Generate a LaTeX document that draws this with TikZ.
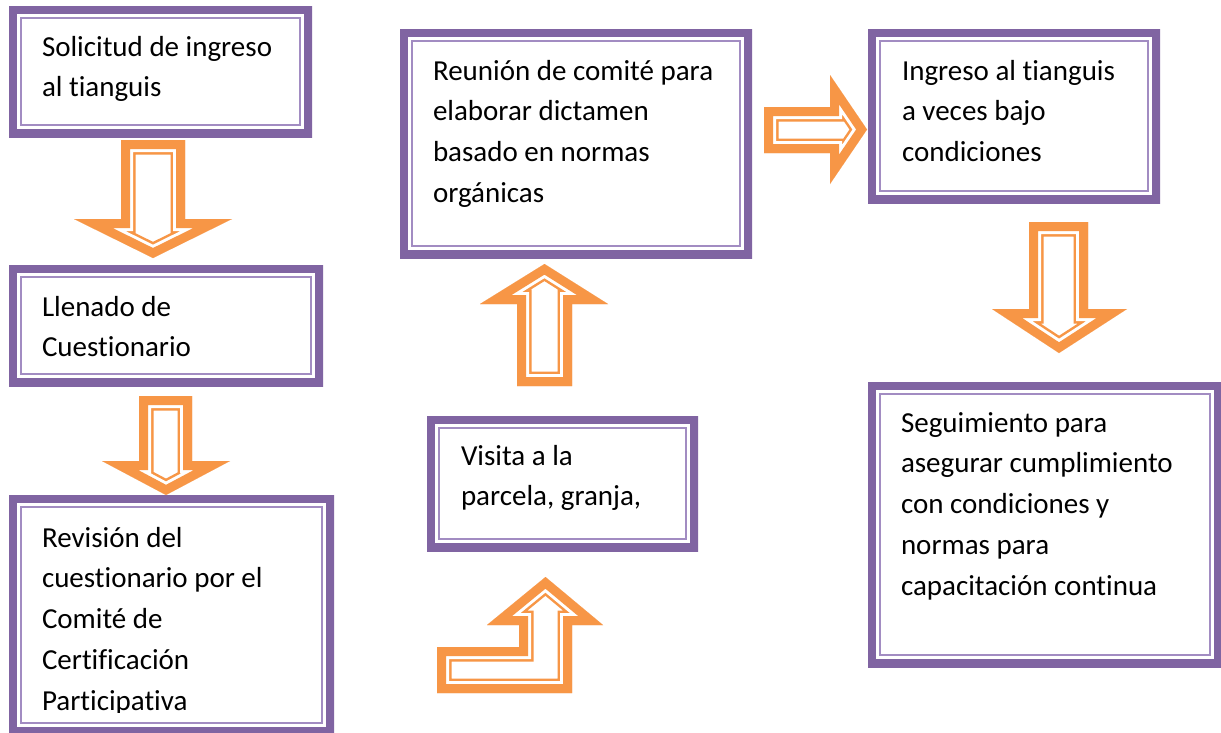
\documentclass[tikz,border=0pt]{standalone}
\usepackage{fontspec}
\setmainfont{Carlito}[Ligatures=NoCommon]
\definecolor{purp}{HTML}{8064A2}
\definecolor{lav}{HTML}{A28CC2}
\definecolor{orng}{HTML}{F79646}
\newcommand\blockarrow[1]{%
  \begin{scope}
    \clip #1;
    \draw[orng, line width=29pt, line join=miter, miter limit=20] #1;
    \draw[white, line width=24pt, line join=miter, miter limit=20] #1;
    \draw[orng, line width=18pt, line join=miter, miter limit=20] #1;
  \end{scope}}
\tikzset{
  box/.style={rectangle, inner sep=0pt, outer sep=0pt, fill=white,
    path picture={
      \draw[purp, line width=16.6pt]
        (path picture bounding box.south west) rectangle (path picture bounding box.north east);
      \draw[lav, line width=2pt]
        ([shift={(12pt,12pt)}]path picture bounding box.south west) rectangle
        ([shift={(-12pt,-12pt)}]path picture bounding box.north east);
    }},
  txt/.style={anchor=north west, inner sep=0pt, outer sep=0pt, align=left,
    font=\fontsize{29pt}{40.8pt}\selectfont},
}
\begin{document}
\begin{tikzpicture}[x=1pt, y=-1pt]
\useasboundingbox (0,0) rectangle (1221,732);
\fill[white] (0,0) rectangle (1221,732);

% boxes
\node[box, minimum width=303pt, minimum height=131pt] (b1) at (160.5,71.5) {};
\node[box, minimum width=314pt, minimum height=121pt] (b2) at (166,325.5) {};
\node[box, minimum width=325pt, minimum height=240pt] (b3) at (171.5,615) {};
\node[box, minimum width=352pt, minimum height=229pt] (b4) at (576,143.5) {};
\node[box, minimum width=271pt, minimum height=135pt] (b5) at (562.5,483.5) {};
\node[box, minimum width=292pt, minimum height=174pt] (b6) at (1014,116) {};
\node[box, minimum width=354pt, minimum height=285pt] (b7) at (1045,524.5) {};

% texts
\node[txt] (t1) at (42,28) {\rule{0pt}{28pt}Solicitud de ingreso\\al tianguis};
\node[txt] (t2) at (42,288) {\rule{0pt}{28pt}Llenado de\\Cuestionario};
\begin{scope}
  \clip (0,0) rectangle (1221,712);
  \node[txt] (t3) at (42,519) {\rule{0pt}{28pt}Revisión del\\cuestionario por el\\Comité de\\Certificación\\Participativa};
\end{scope}
\node[txt] (t4) at (433,52) {\rule{0pt}{28pt}Reunión de comité para\\elaborar dictamen\\basado en normas\\orgánicas};
\node[txt] (t5) at (461,437) {\rule{0pt}{28pt}Visita a la\\parcela, granja,};
\node[txt] (t6) at (902,52) {\rule{0pt}{28pt}Ingreso al tianguis\\a veces bajo\\condiciones};
\node[txt] (t7) at (901,404) {\rule{0pt}{28pt}Seguimiento para\\asegurar cumplimiento\\con condiciones y\\normas para\\capacitación continua};

% block arrows
\blockarrow{(121,140) -- (185,140) -- (185,219) -- (232,219) -- (153,258) -- (74,219) -- (121,219) -- cycle}
\blockarrow{(139,396) -- (192,396) -- (192,461) -- (230,461) -- (166,495) -- (102,461) -- (139,461) -- cycle}
\blockarrow{(517,386) -- (517,304) -- (480,304) -- (544.5,264) -- (608,304) -- (572,304) -- (572,386) -- cycle}
\blockarrow{(764,107) -- (830,107) -- (830,75) -- (867,129.5) -- (830,184) -- (830,153) -- (764,153) -- cycle}
\blockarrow{(1029,222) -- (1088,222) -- (1088,309) -- (1127,309) -- (1059,353) -- (992,309) -- (1029,309) -- cycle}
\blockarrow{(437,693) -- (437,647) -- (519,647) -- (519,625) -- (487,625) -- (545.5,577) -- (603,625) -- (572,625) -- (572,693) -- cycle}
\end{tikzpicture}
\end{document}
